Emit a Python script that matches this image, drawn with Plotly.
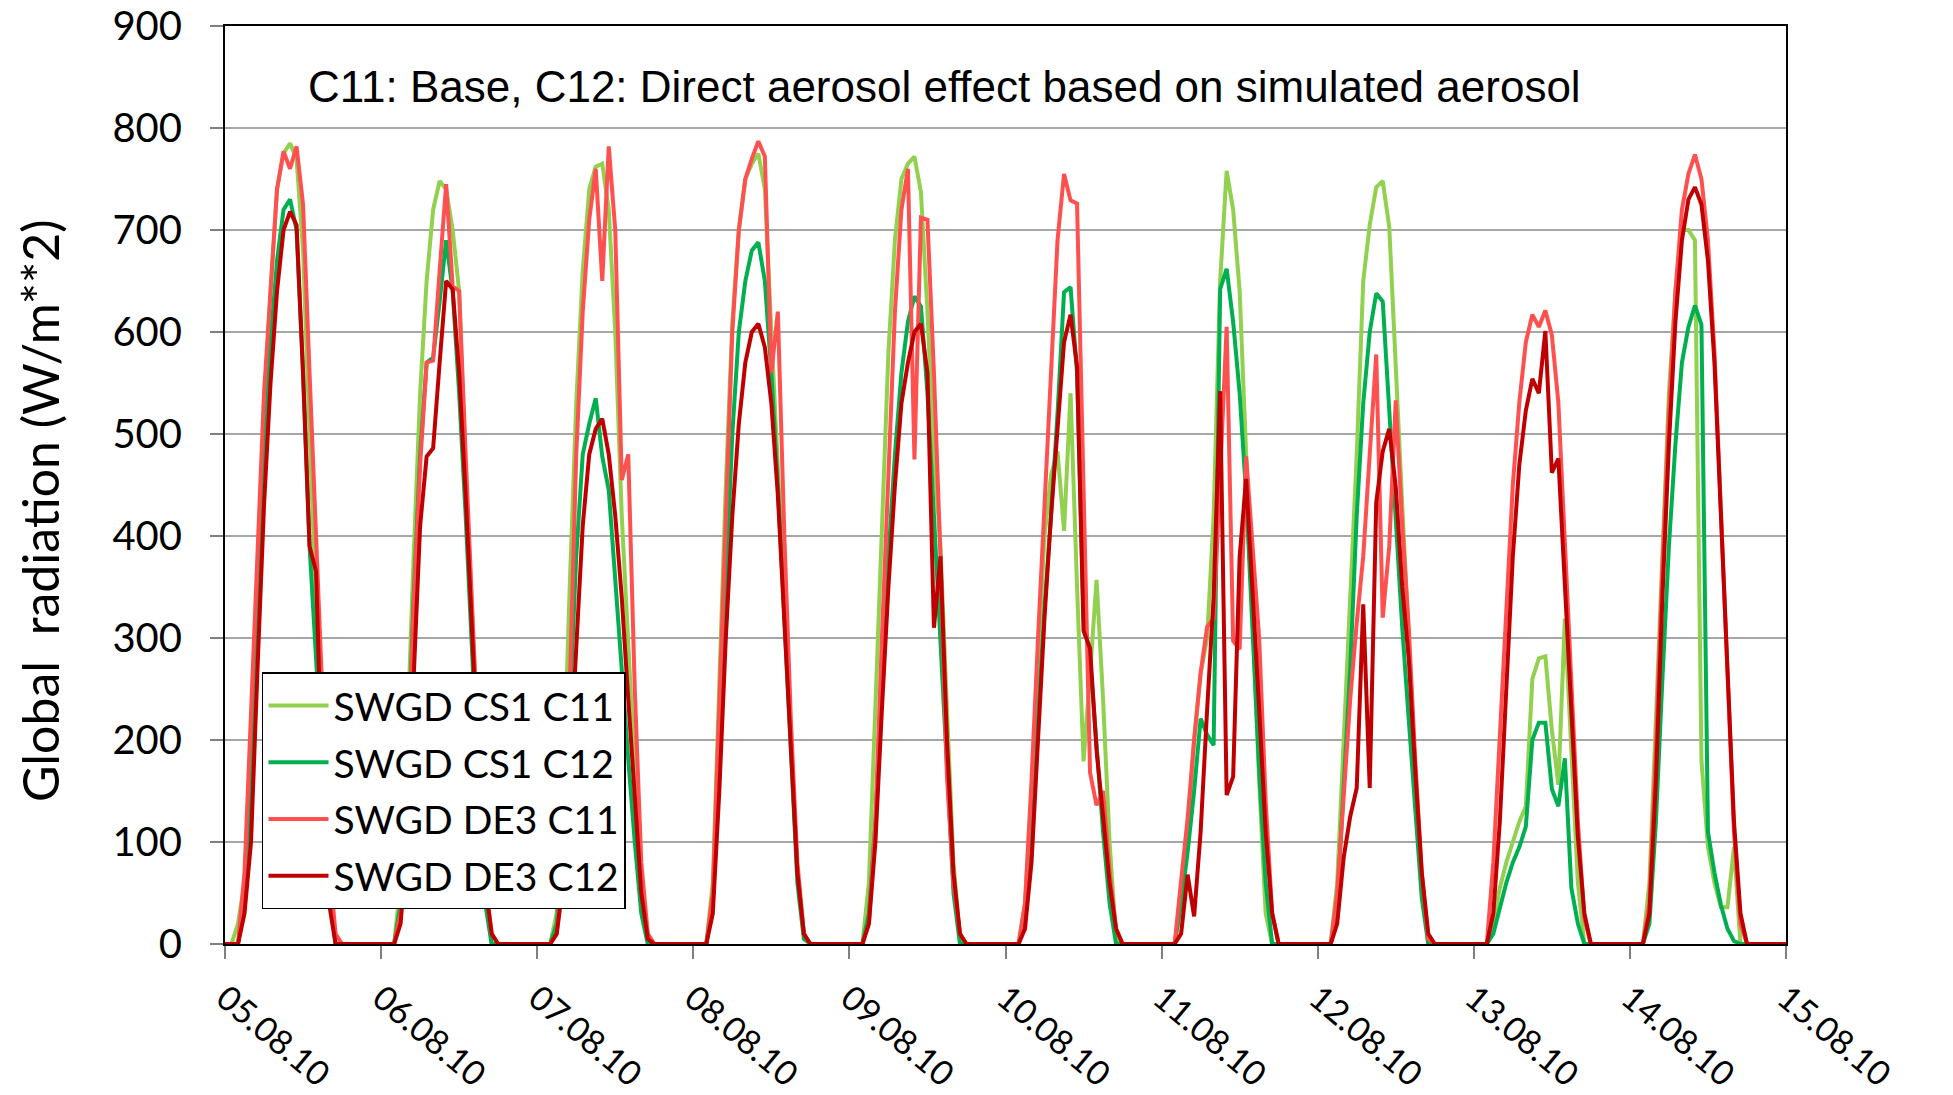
import pandas as pd
import plotly.graph_objects as go

# ---------------- data ----------------
day_labels = ["05.08.10", "06.08.10", "07.08.10", "08.08.10", "09.08.10",
              "10.08.10", "11.08.10", "12.08.10", "13.08.10", "14.08.10", "15.08.10"]

series_names = ["SWGD CS1 C11", "SWGD CS1 C12", "SWGD DE3 C11", "SWGD DE3 C12"]
series_colors = ["#92D050", "#00B050", "#FF5050", "#C00000"]

Z6 = [0, 0, 0, 0, 0, 0]

# hourly values (h0..h23) for each day, W/m**2
cs1_c11_days = [
    [0, 0, 20, 60, 200, 370, 520, 640, 740, 775, 785, 770, 680, 500, 330, 170, 50, 0] + Z6,
    [0, 0, 0, 60, 200, 380, 540, 650, 720, 748, 740, 700, 640, 460, 320, 170, 50, 0] + Z6,
    [0, 0, 0, 30, 150, 350, 530, 660, 740, 762, 765, 720, 600, 420, 290, 170, 60, 10] + Z6,
    [0, 0, 0, 60, 250, 450, 610, 700, 750, 765, 775, 740, 600, 470, 330, 190, 70, 10] + Z6,
    [0, 0, 0, 60, 230, 420, 580, 690, 750, 765, 772, 737, 620, 480, 390, 230, 80, 5] + Z6,
    [0, 0, 0, 40, 150, 280, 400, 460, 483, 405, 540, 350, 179, 265, 357, 240, 100, 5] + Z6,
    [0, 0, 0, 40, 110, 200, 265, 300, 420, 650, 758, 720, 640, 480, 320, 160, 30, 0] + Z6,
    [0, 0, 0, 60, 200, 330, 480, 650, 705, 742, 748, 703, 560, 430, 300, 170, 60, 0] + Z6,
    [0, 0, 0, 20, 55, 80, 100, 120, 135, 260, 280, 282, 210, 156, 319, 180, 60, 0] + Z6,
    [0, 0, 0, 60, 220, 400, 540, 640, 700, 700, 690, 180, 95, 60, 36, 36, 95, 0] + Z6,
]
cs1_c12_days = [
    [0, 0, 0, 40, 140, 310, 470, 590, 670, 720, 730, 700, 560, 390, 280, 170, 60, 0] + Z6,
    [0, 0, 0, 40, 160, 340, 480, 570, 575, 630, 690, 640, 540, 420, 290, 150, 40, 0] + Z6,
    [0, 0, 0, 20, 100, 230, 380, 480, 510, 535, 478, 445, 354, 262, 181, 100, 30, 0] + Z6,
    [0, 0, 0, 40, 180, 350, 500, 600, 650, 680, 688, 650, 560, 450, 320, 180, 60, 5] + Z6,
    [0, 0, 0, 30, 120, 260, 380, 480, 560, 610, 635, 625, 540, 420, 300, 170, 50, 0] + Z6,
    [0, 0, 0, 20, 90, 220, 330, 420, 520, 639, 644, 560, 320, 280, 190, 110, 40, 0] + Z6,
    [0, 0, 0, 40, 90, 150, 221, 205, 195, 642, 662, 610, 540, 440, 300, 170, 60, 0] + Z6,
    [0, 0, 0, 40, 150, 270, 420, 530, 600, 638, 630, 520, 410, 310, 220, 130, 45, 0] + Z6,
    [0, 0, 0, 10, 35, 60, 80, 95, 115, 200, 217, 217, 152, 135, 182, 55, 20, 0] + Z6,
    [0, 0, 0, 20, 120, 260, 390, 490, 570, 605, 626, 607, 110, 70, 38, 15, 3, 0] + Z6,
]
de3_c11_days = [
    [0, 0, 0, 70, 220, 390, 540, 640, 740, 777, 760, 782, 725, 560, 400, 230, 80, 10] + Z6,
    [0, 0, 0, 30, 150, 330, 470, 570, 572, 660, 745, 645, 640, 480, 330, 180, 60, 10] + Z6,
    [0, 0, 0, 10, 80, 250, 480, 620, 710, 760, 650, 782, 700, 455, 480, 250, 80, 10] + Z6,
    [0, 0, 0, 50, 230, 430, 600, 700, 750, 770, 787, 772, 560, 620, 400, 220, 80, 10] + Z6,
    [0, 0, 0, 20, 120, 300, 470, 620, 720, 760, 475, 712, 710, 560, 380, 165, 60, 10] + Z6,
    [0, 0, 0, 40, 160, 300, 430, 560, 690, 755, 729, 726, 450, 168, 136, 150, 70, 15] + Z6,
    [0, 0, 0, 62, 123, 200, 266, 311, 319, 460, 605, 297, 289, 478, 390, 300, 140, 30] + Z6,
    [0, 0, 0, 50, 150, 240, 315, 380, 480, 578, 320, 390, 533, 410, 310, 180, 70, 5] + Z6,
    [0, 0, 0, 80, 200, 330, 450, 531, 590, 617, 605, 621, 597, 531, 400, 260, 120, 25] + Z6,
    [0, 0, 0, 40, 190, 370, 520, 640, 720, 755, 774, 750, 690, 580, 430, 260, 110, 20] + Z6,
]
de3_c12_days = [
    [0, 0, 0, 30, 100, 270, 430, 550, 640, 700, 718, 705, 560, 390, 365, 150, 40, 0] + Z6,
    [0, 0, 0, 20, 100, 260, 410, 478, 486, 570, 650, 642, 560, 440, 300, 170, 60, 10] + Z6,
    [0, 0, 0, 10, 60, 170, 300, 410, 480, 505, 515, 480, 420, 340, 240, 140, 50, 5] + Z6,
    [0, 0, 0, 30, 150, 300, 420, 510, 570, 600, 608, 585, 530, 440, 320, 190, 70, 10] + Z6,
    [0, 0, 0, 20, 100, 230, 350, 450, 530, 570, 600, 608, 560, 310, 380, 200, 70, 10] + Z6,
    [0, 0, 0, 15, 80, 200, 320, 420, 510, 590, 617, 566, 307, 290, 190, 120, 60, 15] + Z6,
    [0, 0, 0, 10, 68, 27, 110, 230, 340, 542, 146, 164, 380, 456, 350, 230, 110, 30] + Z6,
    [0, 0, 0, 20, 85, 125, 153, 333, 153, 433, 483, 505, 448, 350, 280, 170, 70, 10] + Z6,
    [0, 0, 0, 30, 120, 250, 380, 470, 523, 554, 540, 601, 462, 476, 350, 225, 105, 30] + Z6,
    [0, 0, 0, 30, 160, 340, 490, 610, 690, 730, 742, 725, 670, 570, 430, 270, 120, 30] + Z6,
]

title_text = "C11: Base, C12: Direct aerosol effect based on simulated aerosol"
y_title = "Global\u00a0 radiation (W/m**2)"

# ---------------- figure ----------------
times = pd.date_range("2010-08-05 00:00", periods=241, freq="h")
day_ticks = pd.date_range("2010-08-05", periods=11, freq="D")


def flatten(days):
    out = []
    for d in days:
        out.extend(d)
    out.append(0)
    return out


all_days = [cs1_c11_days, cs1_c12_days, de3_c11_days, de3_c12_days]

fig = go.Figure()
for name, color, days in zip(series_names, series_colors, all_days):
    fig.add_trace(go.Scatter(
        x=times, y=flatten(days), mode="lines", name=name,
        legendgroup=name,
        line=dict(color=color, width=4),
    ))

fig.update_layout(
    width=1953, height=1095,
    margin=dict(l=225, r=167, t=26, b=151, autoexpand=False),
    plot_bgcolor="white", paper_bgcolor="white",
    showlegend=True,
    legend=dict(
        x=0.0237, y=0.296, xanchor="left", yanchor="top",
        bgcolor="white", bordercolor="black", borderwidth=1.5,
        font=dict(family="Lato", size=39, color="black"),
        tracegroupgap=3, itemwidth=60,
    ),
    annotations=[
        dict(text=title_text, x=0.052, y=0.9346, xref="paper", yref="paper",
             xanchor="left", yanchor="middle", showarrow=False,
             font=dict(family="Liberation Sans", size=44, color="black")),
        dict(text=y_title, x=-0.1185, y=0.4717, xref="paper", yref="paper",
             xanchor="center", yanchor="middle", showarrow=False, textangle=-90,
             font=dict(family="Lato", size=50, color="black")),
    ],
)

fig.update_xaxes(
    range=[day_ticks[0], day_ticks[-1]],
    tickvals=day_ticks, ticktext=day_labels,
    tickangle=40,
    tickfont=dict(family="Lato", size=34, color="black"),
    showgrid=False, zeroline=False, automargin=False,
    showline=True, linecolor="black", linewidth=2, mirror=True,
    ticks="outside", ticklen=13, tickcolor="#808080", tickwidth=1.5,
    ticklabelstandoff=6, ticklabeloverflow="allow",
)
fig.update_yaxes(
    range=[0, 900], dtick=100,
    tickfont=dict(family="Lato", size=40, color="black"),
    showgrid=True, gridcolor="#A6A6A6", gridwidth=1.5, zeroline=False,
    automargin=False,
    showline=True, linecolor="black", linewidth=2, mirror=True,
    ticks="outside", ticklen=13, tickcolor="#808080", tickwidth=1.5,
    ticklabelstandoff=20, ticklabeloverflow="allow",
)

fig.write_html(
    "out.html",
    config={"displayModeBar": False},
    post_script="document.body.style.margin='0';document.body.style.overflow='hidden';",
)
